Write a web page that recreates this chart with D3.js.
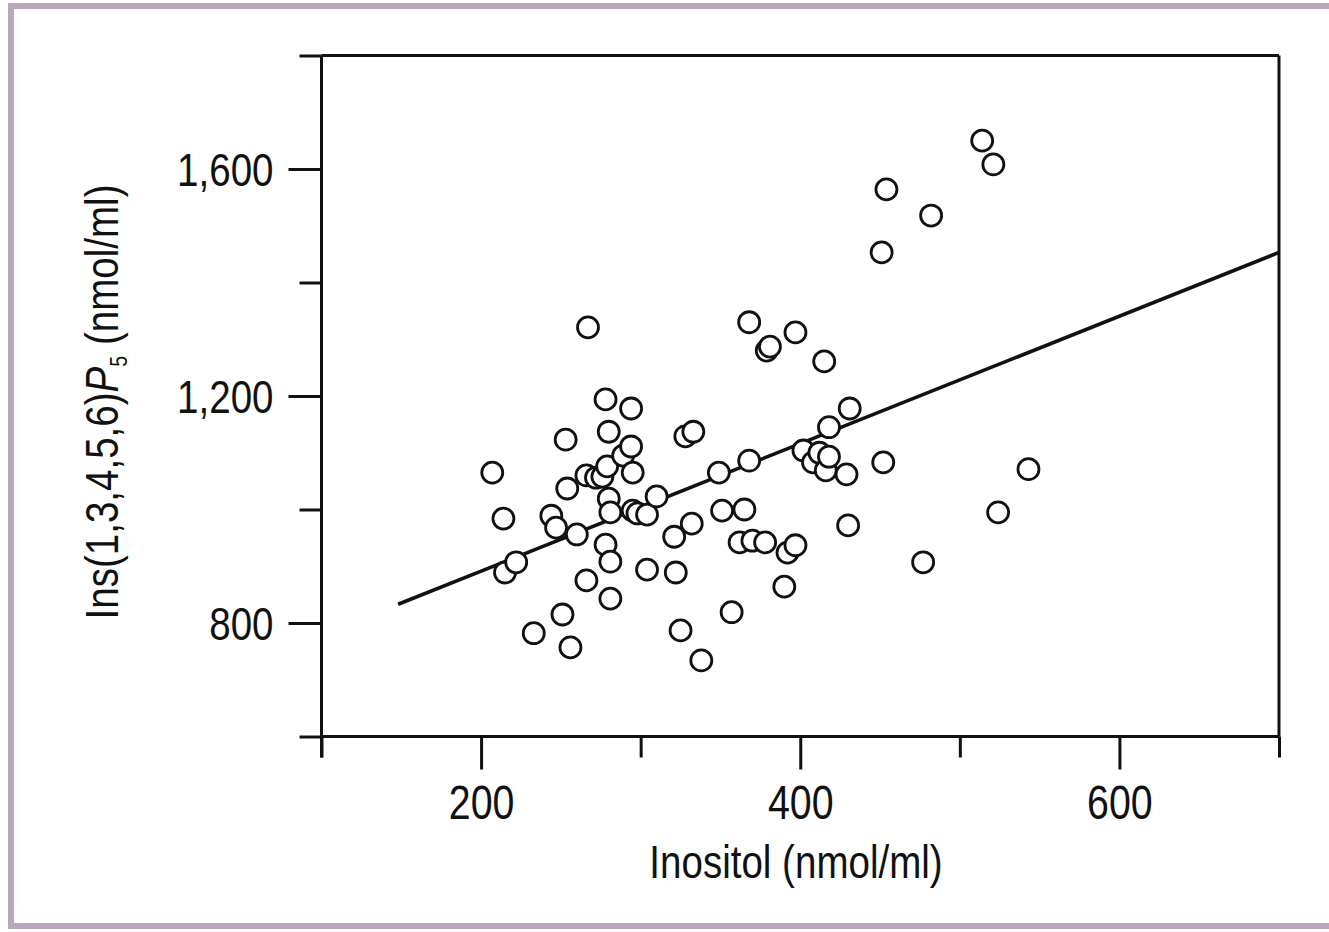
<!DOCTYPE html>
<html>
<head>
<meta charset="utf-8">
<script src="https://cdn.jsdelivr.net/npm/d3@7/dist/d3.min.js"></script>
<style>
  html, body { margin: 0; padding: 0; background: #fff; }
  svg { display: block; }
  text { font-family: "Liberation Sans", Arial, sans-serif; fill: #111; }
</style>
</head>
<body>
<script>
// ---- data ----
const inositol = [207, 214, 215, 222, 233, 244, 247, 251, 253, 254, 256, 260, 266, 266, 267, 272, 276, 278, 279, 280,
  280, 278, 281, 281, 281, 289, 294, 294, 295, 295, 298, 304, 304, 310, 321, 322, 325, 328, 333, 332,
  338, 349, 351, 357, 362, 365, 368, 368, 370, 378, 379, 381, 390, 392, 397, 397, 402, 408, 412, 416,
  418, 415, 418, 429, 430, 431, 451, 452, 454, 477, 482, 514, 521, 524, 543];
const insP5 = [1065, 984, 889, 907, 782, 989, 968, 815, 1123, 1037, 757, 956, 875, 1060, 1321, 1056, 1058, 1194, 1076, 1137,
  1019, 938, 908, 843, 995, 1095, 1178, 1111, 1065, 998, 993, 991, 894, 1023, 952, 889, 787, 1129, 1137, 975,
  734, 1065, 998, 819, 942, 1000, 1330, 1086, 945, 942, 1280, 1287, 864, 924, 1312, 937, 1104, 1083, 1100, 1069,
  1093, 1261, 1145, 1062, 972, 1178, 1453, 1083, 1564, 907, 1518, 1650, 1608, 995, 1071];
const fitX = [148, 700];
const fitY = [833, 1453];
const xTicks = [100, 200, 300, 400, 500, 600, 700];
const xLabelled = [200, 400, 600];
const yTicks = [600, 800, 1000, 1200, 1400, 1600, 1800];
const yLabelled = [800, 1200, 1600];
const xTitle = "Inositol (nmol/ml)";

// ---- layout ----
const W = 1329, H = 932;
const NARROW = 0.82;   // condensed look (Arial Narrow ≈ 82% of Arial)
const svg = d3.select("body").append("svg").attr("width", W).attr("height", H);

// outer frame
svg.append("rect").attr("x", 11).attr("y", 6).attr("width", W + 20).attr("height", 920)
  .attr("fill", "none").attr("stroke", "#bba7bb").attr("stroke-width", 6);

const x = d3.scaleLinear().domain([100, 700]).range([321.5, 1279]);
const y = d3.scaleLinear().domain([600, 1800]).range([736.5, 55.5]);

const fmt = d3.format(",");
const axisColor = "#111";

// Left axis
const gy = svg.append("g").attr("transform", `translate(${x(100)},0)`)
  .call(d3.axisLeft(y).tickValues(yTicks).tickSizeOuter(0).tickSize(22).tickPadding(0)
    .tickFormat(d => yLabelled.includes(d) ? fmt(d) : ""));
gy.select(".domain").attr("stroke", axisColor).attr("stroke-width", 3)
  .attr("d", `M0,${y(1800)}V${y(600) + 21}`);
gy.selectAll(".tick line").attr("stroke", axisColor).attr("stroke-width", 3)
  .attr("x2", d => yLabelled.includes(d) ? -33 : -22);
gy.selectAll(".tick text").attr("x", -48 / NARROW).attr("dy", "0.36em")
  .attr("transform", `scale(${NARROW},1)`)
  .style("font-size", "47px").attr("fill", "#111");

// Bottom axis
const gx = svg.append("g").attr("transform", `translate(0,${y(600)})`)
  .call(d3.axisBottom(x).tickValues(xTicks).tickSizeOuter(0).tickSize(21).tickPadding(0)
    .tickFormat(d => xLabelled.includes(d) ? d : ""));
gx.select(".domain").attr("stroke", axisColor).attr("stroke-width", 3)
  .attr("d", `M${x(100)},0H${x(700)}`);
gx.selectAll(".tick line").attr("stroke", axisColor).attr("stroke-width", 3)
  .attr("y2", d => xLabelled.includes(d) ? 33 : 21);
gx.selectAll(".tick text").attr("y", 48).attr("dy", "0.71em")
  .attr("transform", `scale(${NARROW},1)`)
  .style("font-size", "48px").attr("fill", "#111");

// top and right frame lines
svg.append("line").attr("x1", x(100)).attr("x2", x(700)).attr("y1", y(1800)).attr("y2", y(1800))
  .attr("stroke", axisColor).attr("stroke-width", 3);
svg.append("line").attr("x1", x(700)).attr("x2", x(700)).attr("y1", y(1800)).attr("y2", y(600))
  .attr("stroke", axisColor).attr("stroke-width", 3);

// regression line
svg.append("path")
  .datum(fitX.map((v, i) => [v, fitY[i]]))
  .attr("d", d3.line().x(d => x(d[0])).y(d => y(d[1])))
  .attr("fill", "none").attr("stroke", "#111").attr("stroke-width", 3.6);

// points
svg.append("g").selectAll("circle")
  .data(inositol.map((v, i) => [v, insP5[i]]))
  .join("circle")
  .attr("cx", d => x(d[0])).attr("cy", d => y(d[1])).attr("r", 10.5)
  .attr("fill", "#fff").attr("stroke", "#111").attr("stroke-width", 2.8);

// x title
svg.append("text").attr("transform", `translate(796,878) scale(${NARROW},1)`)
  .attr("text-anchor", "middle")
  .style("font-size", "47px").text(xTitle);

// y title
const yt = svg.append("text").attr("transform", `translate(118,402) rotate(-90) scale(${NARROW},1)`)
  .attr("text-anchor", "middle").style("font-size", "47px");
yt.append("tspan").text("Ins(1,3,4,5,6)");
yt.append("tspan").style("font-style", "italic").text("P");
yt.append("tspan").attr("dy", 9).style("font-size", "24px").text("5");
yt.append("tspan").attr("dy", -9).text(" (nmol/ml)");
</script>
</body>
</html>
